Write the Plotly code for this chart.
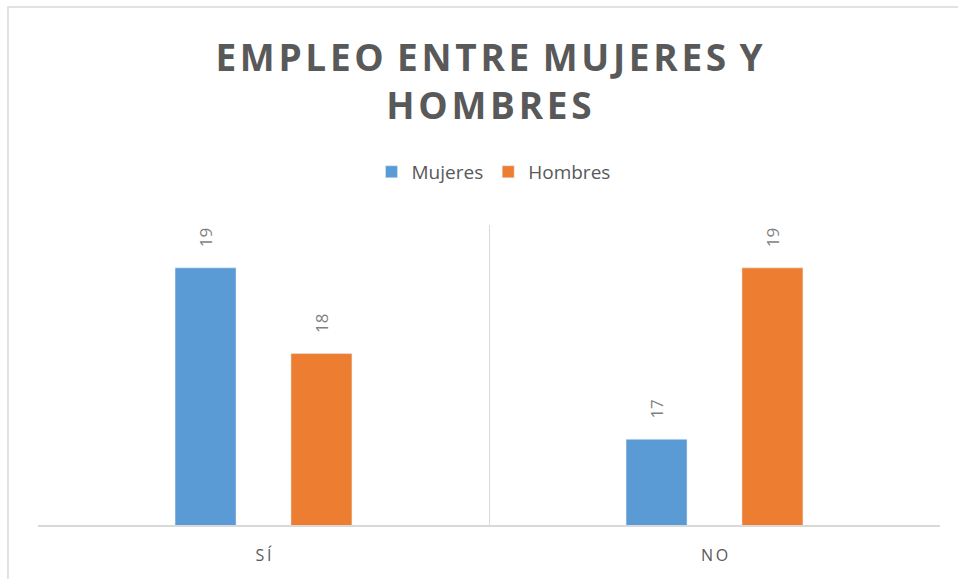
import plotly.graph_objects as go

categories = ["SÍ", "NO"]
mujeres = [19, 17]
hombres = [18, 19]
tick_labels = ["S\u2009Í", "N\u2009O"]

NB = "\u00a0"
pad = NB * 4
HS = "\u200a"

def spaced(s):
    return HS.join(list(s)).replace(HS + " " + HS, " " + HS)

title_text = spaced("EMPLEO ENTRE MUJERES Y") + "<br>" + spaced("HOMBRES")

fig = go.Figure()
fig.add_trace(go.Bar(
    name="Mujeres", x=categories, y=mujeres, marker_color="#5b9bd5",
    text=[pad + str(v) for v in mujeres], textposition="outside", textangle=-90,
    textfont=dict(size=17, color="#7f7f7f", family="Open Sans"), cliponaxis=False,
))
fig.add_trace(go.Bar(
    name="Hombres", x=categories, y=hombres, marker_color="#ed7d31",
    text=[pad + str(v) for v in hombres], textposition="outside", textangle=-90,
    textfont=dict(size=17, color="#7f7f7f", family="Open Sans"), cliponaxis=False,
))

fig.update_layout(
    width=958, height=579,
    margin=dict(l=38, r=18, t=225, b=54),
    paper_bgcolor="white", plot_bgcolor="white",
    barmode="group", bargap=0.486, bargroupgap=0.474,
    title=dict(
        text=title_text, xref="paper",
        x=0.5, xanchor="center", y=0.878, yanchor="middle",
        font=dict(family="Open Sans", size=37, color="#595959", weight="bold"),
    ),
    legend=dict(
        orientation="h", x=0.505, xanchor="center", y=1.177, yanchor="middle",
        font=dict(family="Open Sans", size=19, color="#595959"),
        itemwidth=30, traceorder="normal",
    ),
    xaxis=dict(
        tickmode="array", tickvals=categories, ticktext=tick_labels,
        tickson="boundaries", showgrid=True, gridcolor="#d9d9d9", gridwidth=1,
        showline=True, linecolor="#d9d9d9", linewidth=1.5,
        ticks="", tickfont=dict(family="Open Sans", size=16, color="#595959"),
        range=[-0.5, 1.5], ticklabelstandoff=15,
    ),
    yaxis=dict(range=[16, 19.5], visible=False, showgrid=False),
    shapes=[dict(type="rect", xref="paper", yref="paper",
                 x0=-0.0333, x1=1.05, y0=-0.3, y1=1.727,
                 line=dict(color="#d9d9d9", width=1.5), fillcolor="rgba(0,0,0,0)", layer="below")],
)

fig.write_html("out.html", config={"displayModeBar": False},
               post_script="document.body.style.margin='0';")
